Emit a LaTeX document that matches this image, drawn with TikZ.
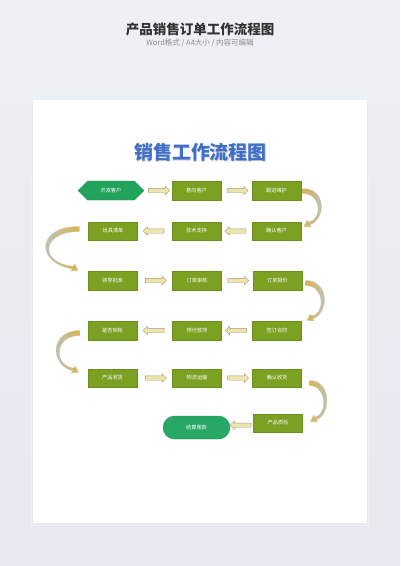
\documentclass[tikz,border=0pt]{standalone}
\usepackage{fontspec}
\newfontfamily\cjk{Noto Sans CJK SC}
\usetikzlibrary{shapes.symbols,shapes.arrows,calc}
\definecolor{bgtop}{HTML}{EEF0F4}
\definecolor{bgbot}{HTML}{E5E8EF}
\definecolor{boxg}{HTML}{7BA123}
\definecolor{boxd}{HTML}{6B8E1C}
\definecolor{hexg}{HTML}{22A35C}
\definecolor{pillg}{HTML}{27A866}
\definecolor{arrfill}{HTML}{EEE4AE}
\definecolor{arrdraw}{HTML}{A69D70}
\definecolor{goldc}{HTML}{D9B64C}
\definecolor{bluec}{HTML}{B4C4D6}
\definecolor{titleblue}{HTML}{3F6FC6}
\tikzset{
  pics/bend/.style n args={3}{code={
    \path[#3, draw=arrdraw!60, line width=0.3pt]
      (0,-2.5) .. controls ({(#1-1)/0.75+2.5},-2.5) and ({(#1-1)/0.75+2},{#2-8}) .. (7.22,{#2-2.19})
      -- (8.43,{#2}) -- (1.24,{#2-0.6}) -- (4.57,{#2-7}) -- (5.78,{#2-4.81})
      .. controls ({(#1-1)/0.75-1.5},{#2-7}) and ({(#1-1)/0.75-2},2.5) .. (0,2.5) -- cycle;
  }}
}
\begin{document}
\begin{tikzpicture}[x=1pt,y=-1pt,
  boxtext/.style={text=white, font=\cjk\fontsize{5.2}{6}\selectfont},
  stepbox/.style={rectangle, draw=boxd, fill=boxg, line width=0.4pt, minimum width=49pt, minimum height=18.5pt, inner sep=0pt, boxtext},
  hexnode/.style={signal, signal to=west and east, fill=hexg, draw=hexg!85!black, line width=0.3pt, minimum width=66pt, minimum height=19pt, inner sep=0pt, boxtext},
  pill/.style={rectangle, rounded corners=11.5pt, fill=pillg, draw=pillg!85!black, line width=0.3pt, minimum width=67pt, minimum height=23pt, inner sep=0pt, boxtext},
  harrow/.style={single arrow, draw=arrdraw, fill=arrfill, line width=0.4pt, minimum height=21pt, minimum width=0pt, inner sep=2pt, single arrow head extend=2pt},
  larrow/.style={harrow, shape border rotate=180},
  rsh/.style={left color=goldc, right color=bluec},
  lsh/.style={left color=bluec, right color=goldc}
]
\useasboundingbox (0,0) rectangle (400,566);
\shade[top color=bgtop, bottom color=bgbot] (0,0) rectangle (400,566);
% page with shadow
\fill[black!6] (31,100) rectangle (369,526);
\fill[black!9] (32,100.5) rectangle (368,524.5);
\fill[white] (33,100) rectangle (367,523);

% top titles
\node[font=\cjk\bfseries\fontsize{13.5}{16}\selectfont, text=black!80] (ttl) at (200,29) {产品销售订单工作流程图};
\node[font=\cjk\fontsize{7.5}{9}\selectfont, text=black!45] (sub) at (200,42.5) {Word格式 / A4大小 / 内容可编辑};

% big title
\node[font=\cjk\bfseries\fontsize{19}{22}\selectfont, text=gray!35] (bigsh) at (201.2,153.2) {销售工作流程图};
\node[font=\cjk\bfseries\fontsize{19}{22}\selectfont, text=titleblue] (big) at (200.5,152) {销售工作流程图};

% nodes
\node[hexnode] (n1) at (111,190.5) {开发客户};
\node[stepbox] (n2) at (196.5,190.5) {意向客户};
\node[stepbox] (n3) at (276.5,190.5) {跟进维护};
\node[stepbox] (n4) at (113,231) {出具清单};
\node[stepbox] (n5) at (196.5,231) {技术支持};
\node[stepbox] (n6) at (276.5,231) {确认客户};
\node[stepbox] (n7) at (112.5,280.5) {领导批准};
\node[stepbox] (n8) at (197,280.5) {订单审核};
\node[stepbox] (n9) at (277.5,280.5) {订单报价};
\node[stepbox] (n10) at (112.5,330.5) {是否到账};
\node[stepbox] (n11) at (197,330.5) {预付款项};
\node[stepbox] (n12) at (277,330.5) {签订合同};
\node[stepbox] (n13) at (112.5,378) {产品发货};
\node[stepbox] (n14) at (197,378) {物流运输};
\node[stepbox] (n15) at (277,378) {确认收货};
\node[pill] (n16) at (196.5,427.5) {结算尾款};
\node[stepbox] (n17) at (278,423) {产品质检};

% straight block arrows
\node[harrow] (a1) at ($(n1.east)!0.5!(n2.west)$) {};
\node[harrow] (a2) at ($(n2.east)!0.5!(n3.west)$) {};
\node[larrow] (a3) at ($(n6.west)!0.5!(n5.east)$) {};
\node[larrow] (a4) at ($(n5.west)!0.5!(n4.east)$) {};
\node[harrow] (a5) at ($(n7.east)!0.5!(n8.west)$) {};
\node[harrow] (a6) at ($(n8.east)!0.5!(n9.west)$) {};
\node[larrow] (a7) at ($(n12.west)!0.5!(n11.east)$) {};
\node[larrow] (a8) at ($(n11.west)!0.5!(n10.east)$) {};
\node[harrow] (a9) at ($(n13.east)!0.5!(n14.west)$) {};
\node[harrow] (a10) at ($(n14.east)!0.5!(n15.west)$) {};
\node[larrow] (a11) at ($(n17.west)!0.5!(n16.east)$) {};

% curved arrows
\pic at ($(n3.east)+(1.5,0.5)$) {bend={17}{36}{rsh}};
\pic[xscale=-1] at ($(n4.west)+(-9,-2)$) {bend={32}{42}{lsh}};
\pic at ($(n9.east)+(3.5,2.5)$) {bend={17}{38}{rsh}};
\pic[xscale=-1] at ($(n10.west)+(-8,2.5)$) {bend={22}{40}{lsh}};
\pic at ($(n15.east)+(7.5,5)$) {bend={16}{39}{rsh}};
\end{tikzpicture}
\end{document}
